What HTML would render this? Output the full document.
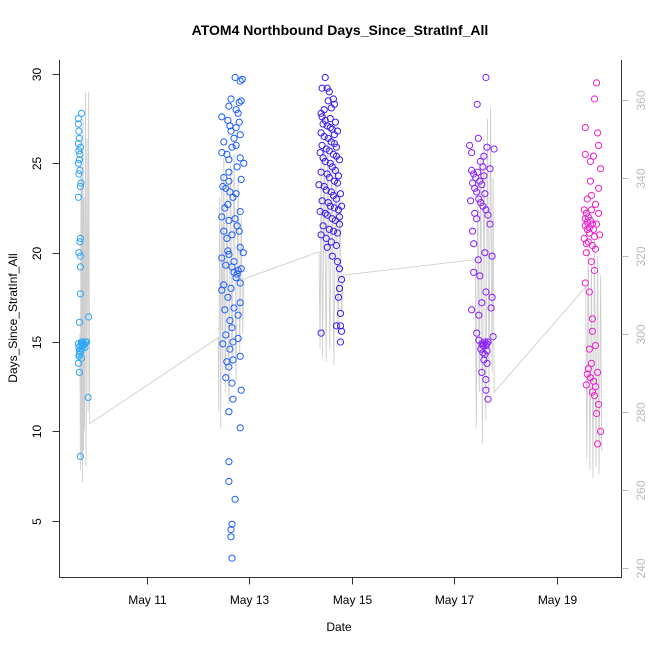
<!DOCTYPE html>
<html><head><meta charset="utf-8"><style>
body{margin:0;background:#fff}
svg{display:block;font-family:"Liberation Sans",Arial,sans-serif}
</style></head><body>
<svg id="chart" width="650" height="650" viewBox="0 0 650 650" xmlns="http://www.w3.org/2000/svg">
<text x="340" y="35" text-anchor="middle" font-size="14" font-weight="bold">ATOM4 Northbound Days_Since_StratInf_All</text>
<text x="339" y="631" text-anchor="middle" font-size="12">Date</text>
<text transform="translate(17,318) rotate(-90)" text-anchor="middle" font-size="12">Days_Since_StratInf_All</text>
<g id="gray"></g>
<g id="pts"></g>
<g id="axes"></g>
</svg>
<script>
const xTicks = [11, 13, 15, 17, 19];
const xTickLabels = ["May 11", "May 13", "May 15", "May 17", "May 19"];
const yTicks = [5, 10, 15, 20, 25, 30];
const y2Ticks = [240, 260, 280, 300, 320, 340, 360];
const groupColors = ["#2EA6F7", "#1E5EFF", "#3A1CF2", "#8A1EFF", "#F01ECF"];
const pts1 = [[9.66,27.5],[9.66,27.2],[9.67,26.8],[9.68,26.4],[9.66,26.1],[9.70,25.9],[9.67,25.7],[9.69,25.5],[9.72,27.8],[9.68,25.2],[9.66,25.0],[9.69,24.6],[9.67,24.4],[9.71,23.9],[9.70,23.7],[9.66,23.1],[9.70,20.8],[9.69,20.6],[9.67,20.0],[9.70,19.8],[9.70,19.2],[9.70,17.7],[9.68,16.1],[9.86,16.4],[9.66,14.9],[9.67,14.7],[9.68,14.5],[9.70,14.8],[9.72,15.0],[9.73,14.9],[9.74,15.0],[9.75,14.9],[9.76,14.8],[9.72,14.6],[9.70,14.4],[9.68,14.3],[9.78,14.9],[9.80,15.0],[9.82,15.0],[9.79,14.7],[9.66,13.8],[9.68,13.3],[9.72,14.1],[9.85,11.9],[9.70,8.6],[9.67,14.2]];
const pts2 = [[12.72,29.8],[12.86,29.7],[12.82,29.6],[12.84,28.5],[12.80,28.4],[12.60,28.2],[12.74,28.0],[12.46,27.6],[12.58,27.4],[12.74,27.0],[12.64,26.8],[12.82,26.6],[12.50,26.2],[12.66,25.9],[12.46,25.6],[12.82,25.3],[12.60,25.2],[12.60,24.5],[12.60,24.0],[12.48,23.7],[12.54,23.6],[12.74,23.3],[12.68,23.1],[12.58,22.7],[12.82,22.3],[12.60,21.8],[12.76,21.5],[12.50,21.2],[12.66,21.0],[12.82,20.3],[12.60,19.9],[12.46,19.7],[12.70,19.5],[12.54,19.3],[12.78,19.0],[12.70,18.9],[12.74,18.6],[12.64,18.0],[12.46,17.9],[12.58,17.5],[12.82,17.2],[12.52,16.8],[12.78,16.5],[12.62,16.2],[12.66,15.8],[12.54,15.4],[12.68,15.0],[12.48,14.9],[12.62,14.6],[12.82,14.2],[12.56,13.9],[12.60,13.6],[12.54,13.0],[12.66,12.7],[12.84,12.3],[12.68,11.8],[12.60,11.1],[12.82,10.2],[12.60,8.3],[12.60,7.2],[12.72,6.2],[12.66,4.8],[12.64,4.5],[12.64,4.1],[12.66,2.9],[12.74,26.0],[12.89,25.0],[12.50,24.2],[12.46,22.0],[12.56,20.8],[12.88,20.0],[12.82,18.3],[12.78,27.8],[12.64,28.6],[12.84,19.1],[12.78,15.2],[12.68,14.0],[12.70,26.4],[12.56,25.5],[12.76,24.8],[12.62,23.4],[12.52,22.5],[12.72,21.9],[12.80,21.2],[12.58,20.1],[12.66,19.2],[12.76,18.8],[12.50,18.2],[12.70,16.9],[12.84,24.1],[12.80,27.3],[12.62,27.1]];
const pts3 = [[14.48,29.8],[14.42,29.2],[14.52,29.2],[14.56,29.0],[14.64,28.6],[14.66,28.3],[14.60,28.1],[14.40,27.8],[14.42,27.6],[14.48,27.4],[14.44,27.2],[14.52,27.1],[14.58,27.0],[14.62,26.9],[14.40,26.7],[14.46,26.5],[14.54,26.4],[14.60,26.2],[14.66,26.1],[14.42,26.0],[14.50,25.8],[14.56,25.7],[14.64,25.5],[14.70,25.4],[14.44,25.3],[14.48,25.1],[14.58,25.0],[14.62,24.8],[14.68,24.6],[14.40,24.5],[14.52,24.4],[14.56,24.2],[14.66,24.0],[14.72,23.9],[14.46,23.7],[14.50,23.5],[14.60,23.4],[14.64,23.2],[14.70,23.0],[14.42,22.9],[14.54,22.8],[14.58,22.6],[14.66,22.5],[14.74,22.4],[14.48,22.2],[14.52,22.1],[14.62,21.9],[14.68,21.8],[14.76,21.6],[14.44,21.5],[14.56,21.3],[14.64,21.2],[14.72,21.1],[14.40,21.0],[14.50,20.8],[14.60,20.6],[14.70,20.4],[14.52,20.3],[14.62,19.8],[14.72,19.5],[14.76,19.1],[14.80,18.5],[14.76,18.0],[14.74,17.5],[14.78,16.6],[14.78,15.9],[14.70,15.9],[14.80,15.6],[14.40,15.5],[14.78,15.0],[14.58,27.5],[14.66,26.6],[14.70,25.9],[14.74,24.3],[14.78,23.3],[14.80,22.6],[14.76,22.0],[14.46,28.0],[14.54,28.5],[14.68,27.3],[14.72,26.8],[14.38,25.6],[14.76,25.2],[14.36,23.8],[14.38,22.3]];
const pts4 = [[17.62,29.8],[17.45,28.3],[17.47,26.4],[17.78,25.8],[17.64,25.9],[17.51,25.1],[17.56,24.8],[17.34,24.6],[17.38,24.4],[17.42,24.2],[17.46,24.5],[17.50,24.0],[17.54,23.8],[17.58,24.3],[17.36,23.9],[17.40,23.6],[17.44,23.4],[17.60,23.3],[17.48,23.0],[17.52,22.8],[17.56,22.6],[17.62,22.4],[17.40,22.2],[17.44,21.9],[17.36,21.2],[17.38,20.5],[17.60,20.0],[17.74,19.8],[17.47,19.6],[17.38,18.9],[17.50,18.7],[17.62,17.8],[17.74,17.5],[17.54,17.2],[17.34,16.8],[17.48,16.5],[17.44,15.5],[17.76,15.3],[17.48,15.1],[17.54,14.9],[17.56,14.8],[17.58,14.9],[17.60,15.0],[17.62,14.8],[17.64,14.9],[17.66,15.0],[17.52,14.6],[17.56,14.4],[17.60,14.3],[17.64,14.5],[17.58,14.0],[17.64,13.8],[17.54,13.3],[17.62,12.9],[17.62,12.3],[17.66,11.8],[17.72,16.9],[17.32,22.9],[17.70,24.7],[17.66,22.1],[17.34,25.6],[17.70,21.6],[17.30,26.0],[17.58,25.4]];
const pts5 = [[19.78,29.5],[19.74,28.6],[19.56,27.0],[19.80,26.7],[19.82,26.0],[19.72,25.4],[19.56,25.5],[19.66,25.1],[19.86,24.7],[19.66,24.0],[19.82,23.6],[19.68,23.2],[19.54,22.4],[19.58,22.2],[19.62,22.0],[19.66,21.8],[19.70,21.6],[19.56,21.5],[19.60,21.3],[19.64,21.1],[19.74,20.9],[19.78,21.6],[19.82,22.2],[19.54,20.8],[19.62,20.6],[19.70,20.4],[19.76,20.2],[19.58,20.0],[19.68,19.5],[19.74,19.0],[19.56,18.3],[19.64,17.8],[19.70,16.3],[19.70,15.6],[19.76,14.8],[19.68,13.8],[19.62,13.5],[19.60,13.2],[19.66,13.0],[19.72,12.8],[19.76,12.5],[19.70,12.2],[19.74,12.0],[19.82,11.5],[19.78,11.0],[19.86,10.0],[19.80,9.3],[19.60,23.0],[19.76,22.7],[19.84,21.0],[19.64,14.6],[19.80,13.3],[19.58,12.6],[19.56,21.9],[19.60,21.7],[19.64,21.4],[19.68,22.4],[19.72,21.3],[19.58,20.5]];
const grayPts = [[9.69,300],[9.70,265],[9.71,345],[9.72,268],[9.73,340],[9.74,262],[9.75,355],[9.76,270],[9.77,335],[9.78,275],[9.80,362],[9.81,266],[9.83,350],[9.85,280],[9.86,362],[9.88,277],
[12.39,299],[12.40,280],[12.42,335],[12.44,276],[12.46,340],[12.48,290],[12.50,345],[12.53,285],[12.56,338],[12.60,282],[12.63,343],[12.66,292],[12.70,346],[12.74,288],[12.78,340],[12.81,295],[12.84,330],[12.87,300],[12.89,314],
[14.36,321],[14.38,296],[14.40,345],[14.43,294],[14.46,348],[14.50,293],[14.53,350],[14.57,296],[14.61,344],[14.65,292],[14.69,346],[14.73,300],[14.77,335],[14.80,305],[14.83,315],
[17.41,319],[17.43,276],[17.46,340],[17.49,285],[17.52,345],[17.55,272],[17.58,350],[17.62,278],[17.65,355],[17.68,285],[17.71,358],[17.74,290],[17.76,340],[17.78,285],
[19.57,312],[19.59,268],[19.62,322],[19.65,265],[19.68,318],[19.71,263],[19.74,324],[19.77,266],[19.80,320],[19.83,264],[19.86,315],[19.88,270]];
const groups = [pts1, pts2, pts3, pts4, pts5];

const NS = "http://www.w3.org/2000/svg";
const L = 59.5, R = 621.5, B = 577.5;
function xs(d){ return 147 + (d - 11) * 51.2; }
function ys(v){ return 520.7 - (v - 5) * 17.87; }
function y2s(r){ return 568 - (r - 240) * 3.904; }
function mk(tag, attrs, parent){ const e = document.createElementNS(NS, tag); for (const k in attrs) e.setAttribute(k, attrs[k]); parent.appendChild(e); return e; }

const gG = document.getElementById("gray");
const gl = mk("polyline", {points: grayPts.map(p => xs(p[0]).toFixed(1) + "," + y2s(p[1]).toFixed(1)).join(" "), fill: "none", stroke: "#cfcfcf", "stroke-width": "0.9"}, gG);



const pG = document.getElementById("pts");
groups.forEach((g, gi) => {
  g.forEach(p => {
    const c = mk("circle", {cx: xs(p[0]).toFixed(1), cy: ys(p[1]).toFixed(1), r: "3.1", fill: "none", stroke: groupColors[gi], "stroke-width": "1"}, pG);
    
    
  });
});

const aG = document.getElementById("axes");
const al = mk("path", {d: `M${L},60 V${B} H${R} V60`, fill: "none", stroke: "#333", "stroke-width": "1"}, aG);


xTicks.forEach((t, i) => {
  const x = Math.round(xs(t)) + 0.5;
  mk("line", {x1: x, x2: x, y1: B, y2: B + 7, stroke: "#333"}, aG);
  const tx = mk("text", {x: x, y: 604, "text-anchor": "middle", "font-size": "12"}, aG);
  tx.textContent = xTickLabels[i];
  
  
});
yTicks.forEach(t => {
  const y = Math.round(ys(t)) + 0.5;
  mk("line", {x1: L - 7, x2: L, y1: y, y2: y, stroke: "#333"}, aG);
  const tx = mk("text", {transform: `translate(41,${y}) rotate(-90)`, "text-anchor": "middle", "font-size": "12"}, aG);
  tx.textContent = t;
  
  
});
y2Ticks.forEach(t => {
  const y = Math.round(y2s(t)) + 0.5;
  mk("line", {x1: R, x2: R + 7, y1: y, y2: y, stroke: "#bbb"}, aG);
  const tx = mk("text", {transform: `translate(645,${y}) rotate(-90)`, "text-anchor": "middle", "font-size": "12", fill: "#bbb"}, aG);
  tx.textContent = t;
  
  
});
</script>
</body></html>
